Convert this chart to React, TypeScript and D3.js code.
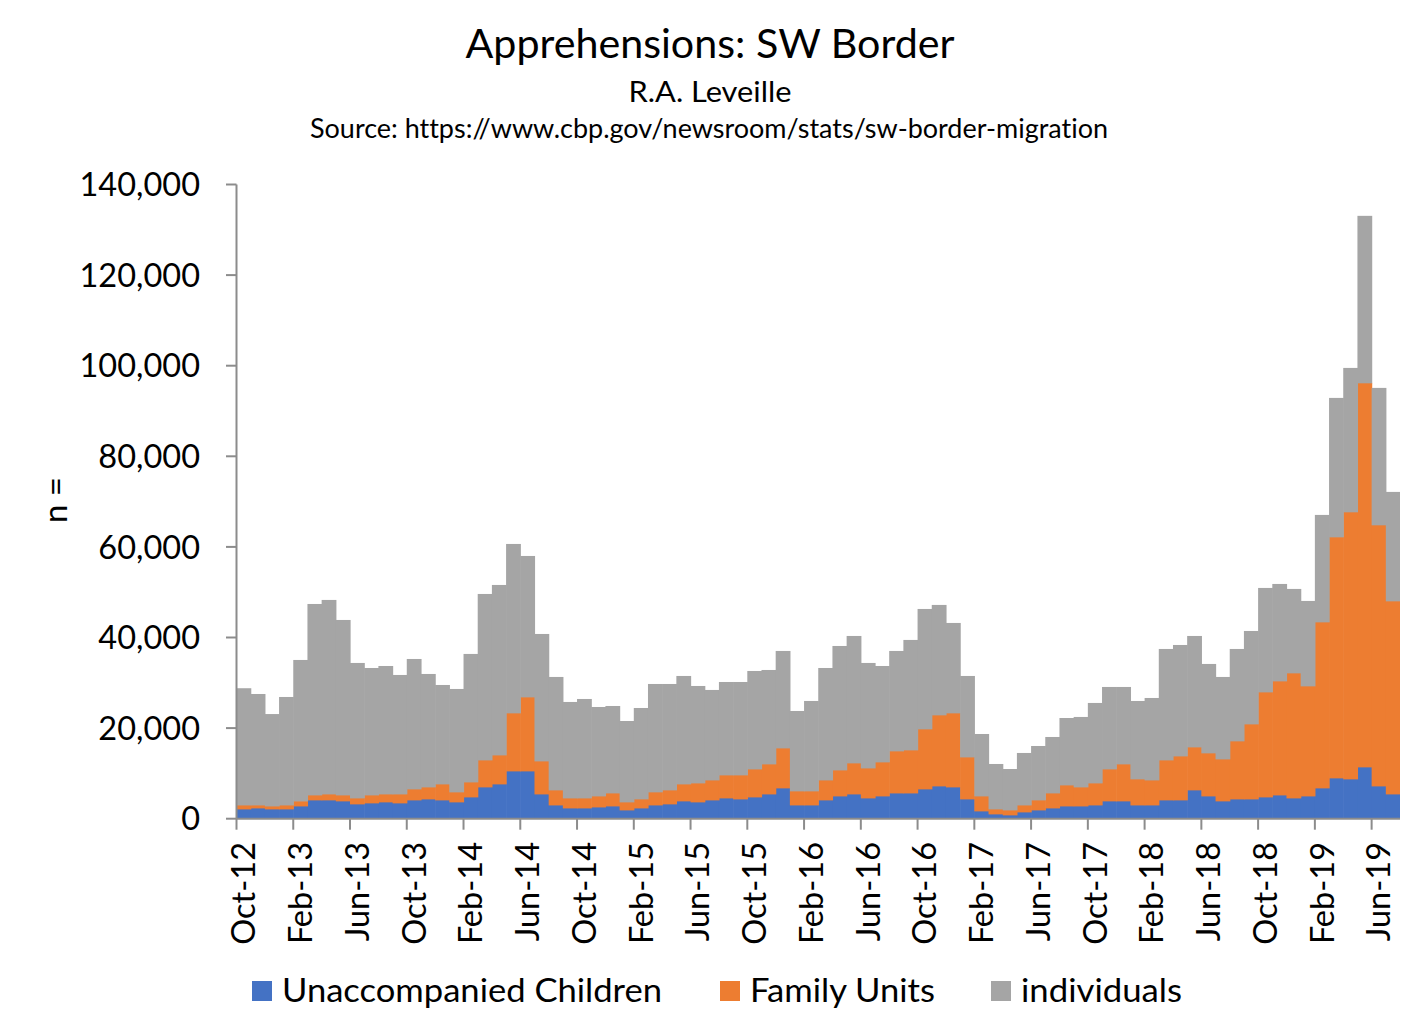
import React from "react";
import * as d3 from "d3";

const months: string[] = [
  "Oct-12","Nov-12","Dec-12","Jan-13","Feb-13","Mar-13","Apr-13","May-13","Jun-13","Jul-13","Aug-13","Sep-13",
  "Oct-13","Nov-13","Dec-13","Jan-14","Feb-14","Mar-14","Apr-14","May-14","Jun-14","Jul-14","Aug-14","Sep-14",
  "Oct-14","Nov-14","Dec-14","Jan-15","Feb-15","Mar-15","Apr-15","May-15","Jun-15","Jul-15","Aug-15","Sep-15",
  "Oct-15","Nov-15","Dec-15","Jan-16","Feb-16","Mar-16","Apr-16","May-16","Jun-16","Jul-16","Aug-16","Sep-16",
  "Oct-16","Nov-16","Dec-16","Jan-17","Feb-17","Mar-17","Apr-17","May-17","Jun-17","Jul-17","Aug-17","Sep-17",
  "Oct-17","Nov-17","Dec-17","Jan-18","Feb-18","Mar-18","Apr-18","May-18","Jun-18","Jul-18","Aug-18","Sep-18",
  "Oct-18","Nov-18","Dec-18","Jan-19","Feb-19","Mar-19","Apr-19","May-19","Jun-19","Jul-19",
];

const unaccompaniedChildren: number[] = [
  2140,2360,2140,2140,2800,4130,4130,3910,3250,3470,3690,3470,
  4130,4350,4130,3690,4790,7000,7660,10530,10530,5450,3020,2360,
  2360,2580,2800,1920,2360,3020,3250,3910,3690,4130,4570,4350,
  4790,5450,6780,3020,3020,4130,5010,5450,4570,5010,5670,5670,
  6560,7220,7000,4350,1700,1040,820,1480,1920,2360,2800,2800,
  3020,3910,3910,3020,3020,4130,4130,6340,5010,3910,4350,4350,
  4790,5230,4570,5010,6780,8990,8770,11420,7220,5450,
];

const familyUnits: number[] = [
  880,660,660,880,1100,1100,1320,1320,1320,1760,1760,1980,
  2430,2650,3530,2210,3310,5960,6400,12810,16340,7290,3320,2210,
  2210,2430,2870,1770,1990,2880,3090,3750,4190,4410,5080,5300,
  6180,6630,8830,3100,3100,4410,5740,6850,6620,7510,9280,9500,
  13250,15680,16340,9270,3310,1100,1100,1540,2210,3310,4640,4200,
  4860,7060,8170,5750,5520,8830,9710,9490,9500,9270,12810,16560,
  23180,25170,27600,24290,36650,53210,58950,84780,57630,42620,
];

const individuals: number[] = [
  25780,24510,20300,23850,31140,42170,42840,38640,29810,28040,28260,26280,
  28700,24950,21860,22740,28270,36650,37540,37310,31130,28040,24950,21200,
  21860,19650,19210,17880,20090,23840,23400,23850,21420,19880,20530,20530,
  21640,20750,21420,17660,19870,24730,27380,28040,23190,21190,22080,24290,
  26490,24290,19870,17890,13690,9940,9050,11490,11920,12370,14790,15460,
  17670,18110,17000,17220,18110,24510,24510,24510,19650,18110,20310,20530,
  22970,21420,18550,18770,23630,30690,31790,36880,30250,24070,
];

const seriesKeys = ["Unaccompanied Children", "Family Units", "individuals"];
const seriesColors = ["#4472C4", "#ED7D31", "#A5A5A5"];
const yTicks = [0, 20000, 40000, 60000, 80000, 100000, 120000, 140000];

const FONT = "Lato, 'Noto Sans', sans-serif";

export default function App() {
  const rows = months.map((m, i) => ({
    month: m,
    "Unaccompanied Children": unaccompaniedChildren[i],
    "Family Units": familyUnits[i],
    individuals: individuals[i],
  }));

  const left = 236.5;
  const right = 1400;
  const top = 184.5;
  const bottom = 818.7;

  const x = d3.scaleBand<string>().domain(months).range([left, right]).padding(0);
  const y = d3.scaleLinear().domain([0, 140000]).range([bottom, top]);

  const stacked = d3.stack<any>().keys(seriesKeys)(rows);
  const bw = x.bandwidth();
  const fmt = d3.format(",");
  const axisColor = "#8C8C8C";

  const legendItems = [
    { label: seriesKeys[0], color: seriesColors[0], x: 252, w: 380 },
    { label: seriesKeys[1], color: seriesColors[1], x: 720, w: 185 },
    { label: seriesKeys[2], color: seriesColors[2], x: 991, w: 161 },
  ];

  return (
    <svg
      width={1422}
      height={1031}
      style={{ position: "absolute", left: 0, top: 0, background: "#fff", fontVariantLigatures: "none" }}
      fontFamily={FONT}
    >
      <rect x={0} y={0} width={1422} height={1031} fill="#fff" />
      {/* titles */}
      <text x={710} y={58} textAnchor="middle" fontSize={40} fill="#000" textLength={489} lengthAdjust="spacingAndGlyphs">
        Apprehensions: SW Border
      </text>
      <text x={710} y={102} textAnchor="middle" fontSize={28} fill="#000" textLength={163} lengthAdjust="spacingAndGlyphs">
        R.A. Leveille
      </text>
      <text x={709} y={138} textAnchor="middle" fontSize={26} fill="#000" textLength={798} lengthAdjust="spacingAndGlyphs">
        Source: https://www.cbp.gov/newsroom/stats/sw-border-migration
      </text>

      {/* bars */}
      {stacked.map((s, si) => (
        <g key={s.key} fill={seriesColors[si]}>
          {s.map((d: any, i: number) => {
            const x0 = x(months[i]) as number;
            return (
              <rect
                key={i}
                x={x0}
                y={y(d[1])}
                width={bw + (i < months.length - 1 ? 0.6 : 0)}
                height={Math.max(0, y(d[0]) - y(d[1]) + (si > 0 ? 0.4 : 0))}
              />
            );
          })}
        </g>
      ))}

      {/* y axis */}
      <line x1={left} x2={left} y1={top} y2={bottom} stroke={axisColor} strokeWidth={2} />
      {yTicks.map((t) => (
        <g key={t}>
          <line x1={left - 10.5} x2={left} y1={y(t)} y2={y(t)} stroke={axisColor} strokeWidth={2} />
          <text x={200} y={y(t)} dy="0.36em" textAnchor="end" fontSize={32.5} fill="#000">
            {fmt(t)}
          </text>
        </g>
      ))}
      <text
        transform={`translate(67, 500) rotate(-90)`}
        textAnchor="middle"
        fontSize={33}
        fill="#000"
      >
        n =
      </text>

      {/* x axis */}
      <line x1={left} x2={right} y1={bottom} y2={bottom} stroke={axisColor} strokeWidth={2} />
      {months.map((m, i) =>
        i % 4 === 0 ? (
          <g key={m}>
            <line
              x1={x(m) as number}
              x2={x(m) as number}
              y1={bottom}
              y2={bottom + 11}
              stroke={axisColor}
              strokeWidth={2}
            />
            <text
              transform={`translate(${(x(m) as number) + bw / 2}, 842) rotate(-90)`}
              textAnchor="end"
              dy="0.36em"
              fontSize={32.5}
              fill="#000"
            >
              {m}
            </text>
          </g>
        ) : null
      )}

      {/* legend */}
      {legendItems.map((it) => (
        <g key={it.label}>
          <rect x={it.x} y={981} width={20} height={20} fill={it.color} />
          <text
            x={it.x + 30}
            y={1002}
            fontSize={33}
            fill="#000"
            textLength={it.w}
            lengthAdjust="spacingAndGlyphs"
          >
            {it.label}
          </text>
        </g>
      ))}
    </svg>
  );
}
